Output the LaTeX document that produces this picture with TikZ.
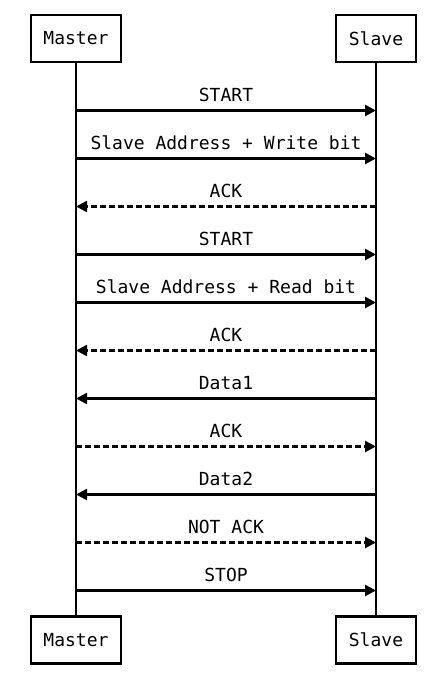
\documentclass[tikz,border=0pt]{standalone}
\usepackage{fontspec}
\setmonofont{DejaVu Sans Mono}
\usetikzlibrary{arrows.meta}
\begin{document}
\begin{tikzpicture}[x=1pt,y=1pt,
  actor/.style={draw,line width=2.5pt,minimum height=47pt,inner sep=0pt,font=\ttfamily\fontsize{18}{20}\selectfont},
  life/.style={line width=2.5pt},
  msg/.style={line width=2.5pt,-{Triangle[length=11pt,width=11pt]}},
  reply/.style={msg,dash pattern=on 6pt off 3pt},
  lbl/.style={anchor=base,inner sep=0pt,font=\ttfamily\fontsize{18}{20}\selectfont}]
\useasboundingbox (0,0) rectangle (440,-693);
\fill[white] (0,0) rectangle (440,-693);
\node[actor,minimum width=90pt] (mt) at (76,-38.5) {Master};
\node[actor,minimum width=80pt] (st) at (376,-38.5) {Slave};
\node[actor,minimum width=90pt] (mb) at (76,-640) {Master};
\node[actor,minimum width=80pt] (sb) at (376,-640) {Slave};
\draw[life] (mt.south) -- (mb.north);
\draw[life] (st.south) -- (sb.north);
\foreach \i in {1,...,11}{
  \coordinate (m\i) at (76,{-110.5-48*(\i-1)});
  \coordinate (s\i) at (376,{-110.5-48*(\i-1)});
  \coordinate (l\i) at (226,{-101-48*(\i-1)});
}
\draw[msg] (m1) -- (s1);   \node[lbl] (t1) at (l1) {START};
\draw[msg] (m2) -- (s2);   \node[lbl] (t2) at (l2) {Slave Address + Write bit};
\draw[reply] (s3) -- (m3); \node[lbl] (t3) at (l3) {ACK};
\draw[msg] (m4) -- (s4);   \node[lbl] (t4) at (l4) {START};
\draw[msg] (m5) -- (s5);   \node[lbl] (t5) at (l5) {Slave Address + Read bit};
\draw[reply] (s6) -- (m6); \node[lbl] (t6) at (l6) {ACK};
\draw[msg] (s7) -- (m7);   \node[lbl] (t7) at (l7) {Data1};
\draw[reply] (m8) -- (s8); \node[lbl] (t8) at (l8) {ACK};
\draw[msg] (s9) -- (m9);   \node[lbl] (t9) at (l9) {Data2};
\draw[reply] (m10) -- (s10); \node[lbl] (t10) at (l10) {NOT ACK};
\draw[msg] (m11) -- (s11); \node[lbl] (t11) at (l11) {STOP};
\end{tikzpicture}
\end{document}
